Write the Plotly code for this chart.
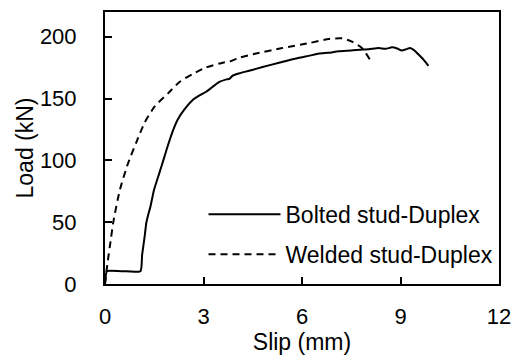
import plotly.graph_objects as go

# Bolted stud-Duplex (solid)
bolted_x = [0.0, 0.03, 0.06, 0.5, 1.08, 1.13, 1.20, 1.26, 1.32, 1.385, 1.49, 1.645, 1.80, 1.92,
            2.09, 2.22, 2.42, 2.68, 2.88, 3.08, 3.28, 3.48, 3.70, 3.79, 3.89,
            4.10, 4.39, 4.8, 5.30, 5.60, 5.91, 6.20, 6.52, 6.80, 7.12, 7.5, 7.83, 8.03, 8.33,
            8.55, 8.74, 8.90, 9.04, 9.18, 9.29, 9.42, 9.55, 9.70, 9.85]
bolted_y = [0.0, 8.0, 10.4, 10.4, 10.4, 23.5, 36.9, 49.7, 56.5, 62.7, 75.8, 88.9, 102.0, 112.4,
            125.5, 133.3, 141.2, 149.0, 152.5, 155.5, 159.5, 163.4, 165.5, 166.0, 168.6,
            170.5, 172.5, 175.5, 179.0, 181.0, 183.0, 184.5, 186.4, 187.0, 188.2, 188.8, 189.6, 189.8,
            190.8, 190.2, 191.4, 190.5, 188.8, 190.0, 190.8, 189.0, 185.6, 181.5, 176.5]

# Welded stud-Duplex (dashed)
welded_x = [0.0, 0.07, 0.18, 0.25, 0.45, 0.69, 0.96, 1.21, 1.52, 1.92, 2.27, 2.68, 3.08,
            3.59, 3.79, 4.09, 4.6, 5.4, 6.21, 6.82, 7.22, 7.52, 7.83, 8.08]
welded_y = [0.0, 15.7, 36.6, 49.7, 75.8, 96.7, 115.0, 130.7, 143.8, 154.2, 163.4, 170.0, 175.2,
            179.0, 179.9, 183.0, 186.4, 190.8, 194.8, 198.2, 198.7, 196.1, 190.8, 181.0]

x_ticks = [0, 3, 6, 9, 12]
y_ticks = [0, 50, 100, 150, 200]

FONT = "Liberation Sans, Arial, sans-serif"
TICK_SIZE = 22
TEXT_SIZE = 23

fig = go.Figure()
fig.add_trace(go.Scatter(x=bolted_x, y=bolted_y, mode="lines", name="Bolted stud-Duplex",
                         line=dict(color="black", width=2, shape="spline", smoothing=0.5),
                         legendgroup="a"))
fig.add_trace(go.Scatter(x=welded_x, y=welded_y, mode="lines", name="Welded stud-Duplex",
                         line=dict(color="black", width=2, dash="7px,5px", shape="spline", smoothing=0.6),
                         legendgroup="b"))

axis_common = dict(showgrid=False, zeroline=False, showline=True, linecolor="black", linewidth=2,
                   mirror=True, ticks="inside", ticklen=7, tickwidth=2, tickcolor="black",
                   tickfont=dict(family=FONT, size=TICK_SIZE, color="black"))

fig.update_layout(
    width=521, height=356,
    margin=dict(l=105, r=20, t=10, b=66),
    paper_bgcolor="white", plot_bgcolor="white",
    font=dict(family=FONT, size=TEXT_SIZE, color="black"),
    showlegend=True,
    legend=dict(x=0.25, y=0.335, xanchor="left", yanchor="top", bgcolor="rgba(0,0,0,0)",
                font=dict(family=FONT, size=TEXT_SIZE, color="black"), itemwidth=72,
                traceorder="grouped", tracegroupgap=7),
    xaxis=dict(range=[0, 12], tickvals=x_ticks, ticktext=[str(v) for v in x_ticks],
               title=dict(text="Slip (mm)", font=dict(family=FONT, size=TEXT_SIZE), standoff=0),
               **axis_common),
    yaxis=dict(range=[0, 220], tickvals=y_ticks, ticktext=[str(v) for v in y_ticks],
               title=dict(text="Load (kN)", font=dict(family=FONT, size=TEXT_SIZE), standoff=0),
               **axis_common),
)
fig.update_xaxes(ticklabelstandoff=12)
fig.update_yaxes(ticklabelstandoff=22)

fig.write_html("out.html")
